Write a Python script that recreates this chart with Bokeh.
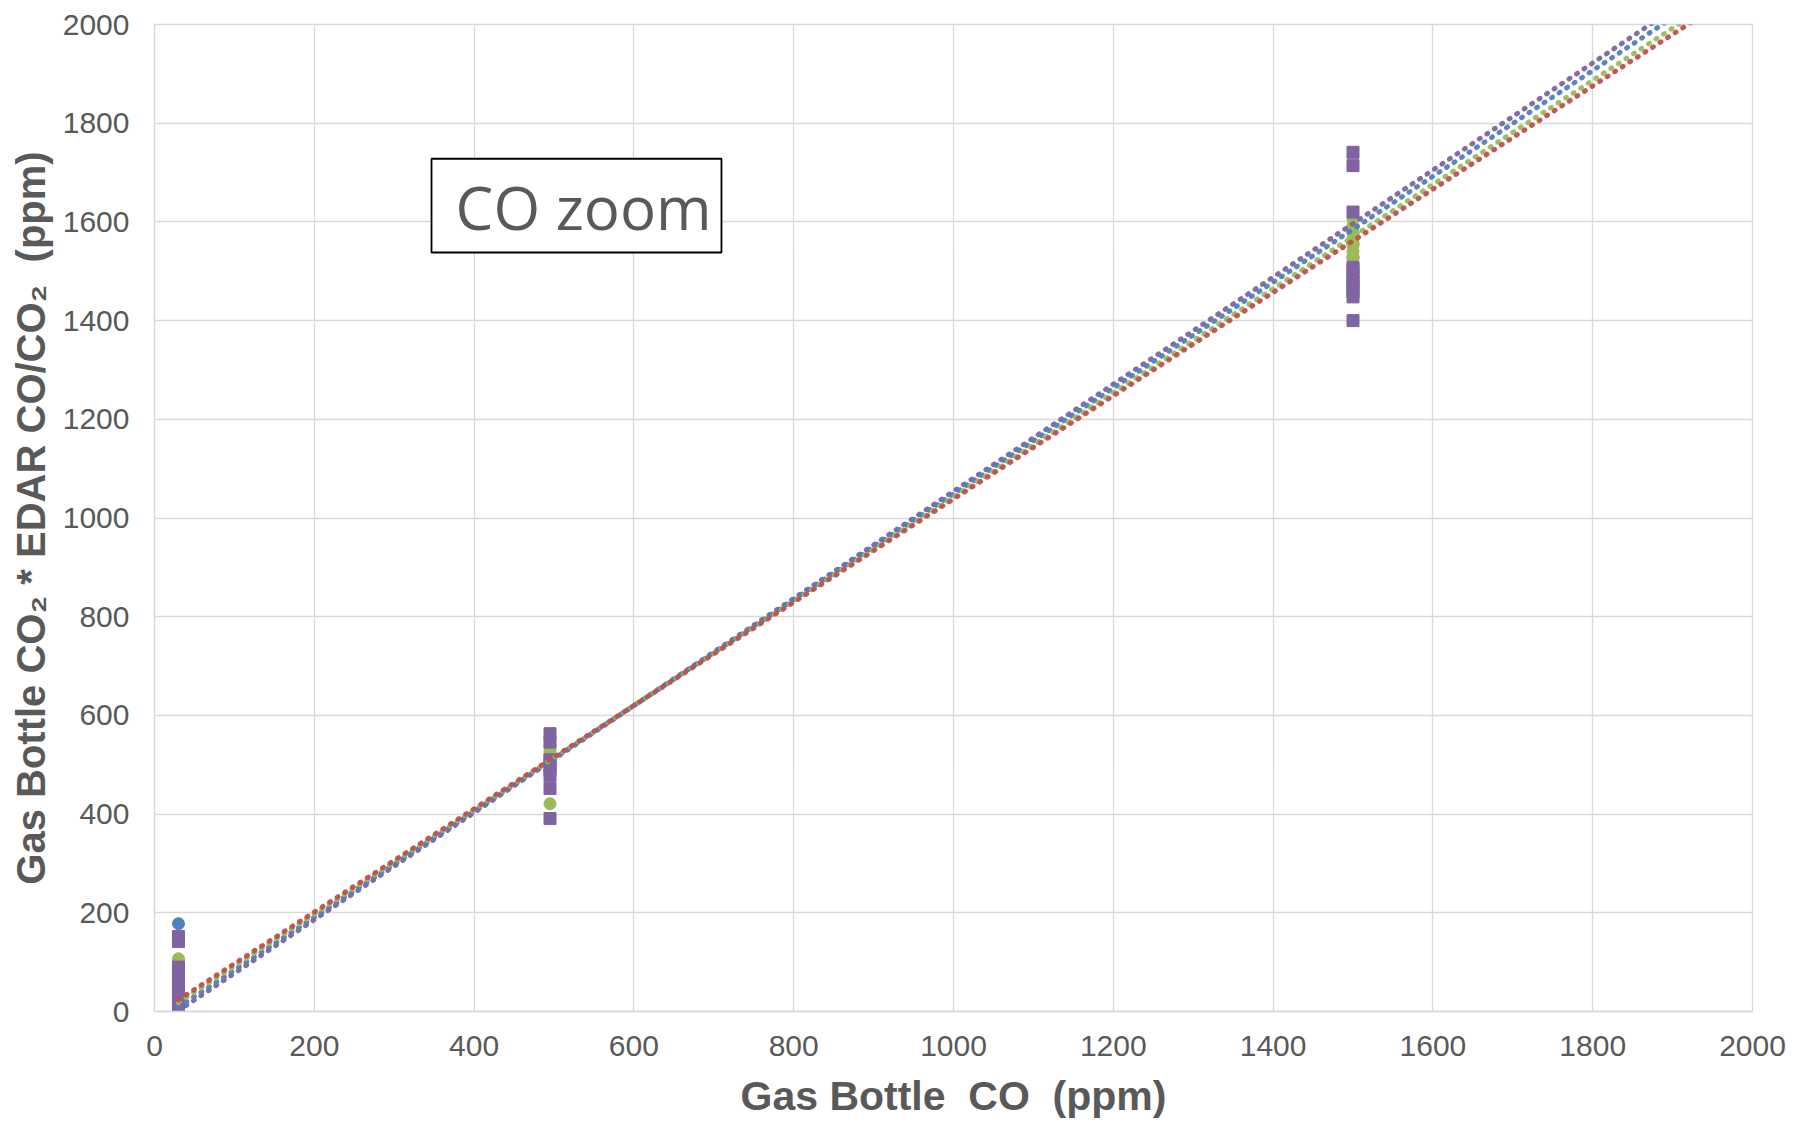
from bokeh.plotting import figure
from bokeh.models import Range1d, FixedTicker, BoxAnnotation, Label
from bokeh.core.properties import value
from bokeh.embed import file_html
from bokeh.resources import INLINE

# ---------------- data ----------------
TICKS = [0, 200, 400, 600, 800, 1000, 1200, 1400, 1600, 1800, 2000]

blue_x = [30, 30, 30, 495, 495, 1500, 1500]
blue_y = [178, 30, 22, 505, 512, 1589, 1578]

red_x = [30, 30, 30, 495, 495, 495, 1500, 1500, 1500, 1500, 1500]
red_y = [26, 19, 14, 518, 497, 488, 1556, 1528, 1512, 1450, 1470]

green_x = [30, 30, 30, 30, 30,
           495, 495, 495, 495, 495,
           1500, 1500, 1500, 1500, 1500, 1500, 1500, 1500, 1500, 1500, 1500]
green_y = [107, 101, 96, 26, 22,
           540, 533, 526, 518, 421,
           1606, 1592, 1578, 1565, 1552, 1540, 1528, 1515, 1500, 1480, 1462]

purple_x = [30, 30, 30, 30, 30, 30, 30, 30, 30, 30, 30,
            495, 495, 495, 495, 495, 495, 495, 495,
            1500, 1500, 1500, 1500, 1500, 1500, 1500, 1500, 1500, 1500, 1500]
purple_y = [152, 142, 90, 80, 71, 62, 53, 44, 36, 28, 9,
            563, 546, 510, 500, 490, 478, 452, 391,
            1741, 1714, 1620, 1508, 1497, 1487, 1477, 1467, 1458, 1448, 1400]

# linear trendlines (slope, intercept) per series
trend_series = ["purple", "blue", "green", "red"]
trend_slope = [1.085, 1.0723, 1.0558, 1.0462]
trend_intercept = [-31.0, -23.4, -13.5, -7.7]
trend_x_start = 30
trend_x_end = 2000

COLORS = {"blue": "#4F81BD", "red": "#C0504D", "green": "#9BBB59", "purple": "#8064A2"}

TEXT_GRAY = "#595959"
GRID = "#d9d9d9"
NB = "\u00a0"

p = figure(width=1798, height=1121, output_backend="svg", toolbar_location=None,
           x_range=Range1d(0, 2000), y_range=Range1d(0, 2000),
           min_border_left=154, min_border_right=46, min_border_top=24, min_border_bottom=104)

p.background_fill_color = "white"
p.border_fill_color = "white"
p.outline_line_color = GRID
p.outline_line_width = 1.3

for ax in (p.xaxis[0], p.yaxis[0]):
    ax.ticker = FixedTicker(ticks=TICKS)
    ax.major_tick_line_color = None
    ax.minor_tick_line_color = None
    ax.axis_line_color = GRID
    ax.axis_line_width = 1.3
    ax.major_label_text_font = "Liberation Sans"
    ax.major_label_text_font_size = "30px"
    ax.major_label_text_color = TEXT_GRAY
    ax.axis_label_text_font = "Liberation Sans"
    ax.axis_label_text_font_style = "bold"
    ax.axis_label_text_color = TEXT_GRAY

p.xaxis.axis_label_text_font_size = "41px"
p.yaxis.axis_label_text_font_size = "40px"
p.xaxis.major_label_standoff = 18
p.yaxis.major_label_standoff = 19
p.xaxis.axis_label = "Gas Bottle " + NB + "CO " + NB + "(ppm)"
p.yaxis.axis_label = "Gas Bottle CO\u2082 * EDAR CO/CO\u2082 " + NB + "(ppm)"
p.xaxis.axis_label_standoff = 14
p.yaxis.axis_label_standoff = 7

for g in (p.xgrid[0], p.ygrid[0]):
    g.ticker = FixedTicker(ticks=TICKS)
    g.grid_line_color = GRID
    g.grid_line_width = 1.3

# markers
p.scatter(blue_x, blue_y, marker="circle", size=12, fill_color=COLORS["blue"], line_color=COLORS["blue"])
p.scatter(red_x, red_y, marker="circle", size=12, fill_color=COLORS["red"], line_color=COLORS["red"])
p.scatter(green_x, green_y, marker="circle", size=12, fill_color=COLORS["green"], line_color=COLORS["green"])
p.scatter(purple_x, purple_y, marker="square", size=12, fill_color=COLORS["purple"], line_color=COLORS["purple"])

# dotted trendlines
for name, m, b in zip(trend_series, trend_slope, trend_intercept):
    xs = [trend_x_start, trend_x_end]
    ys = [b + m * xv for xv in xs]
    p.line(xs, ys, line_color=COLORS[name], line_width=5, line_dash="1 8",
           line_cap="round", line_alpha=0.95)

# "CO zoom" box
box = BoxAnnotation(left=346.7, right=709.6, bottom=1538, top=1728,
                    fill_color="white", fill_alpha=1.0,
                    line_color="black", line_alpha=1.0, line_width=1.8)
p.add_layout(box)
lbl = Label(x=537, y=1630, text="CO zoom", text_align="center", text_baseline="alphabetic",
            text_font="Open Sans", text_font_size="60px", text_color=TEXT_GRAY)
p.add_layout(lbl)

open("out.html", "w").write(file_html(p, INLINE))
